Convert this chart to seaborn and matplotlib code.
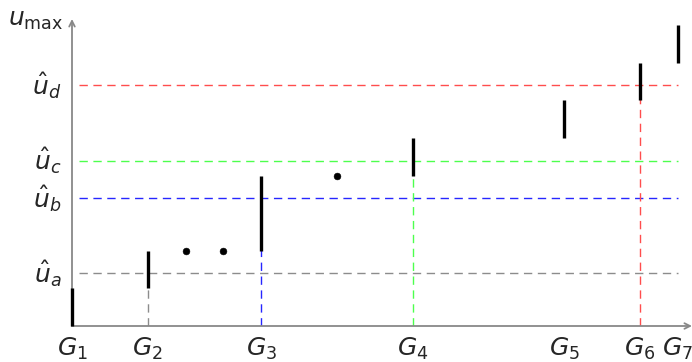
import matplotlib
matplotlib.use("Agg")
import matplotlib.pyplot as plt
import seaborn as sns
import pandas as pd

# data
group_labels = ["$G_1$", "$G_2$", "$G_3$", "$G_4$", "$G_5$", "$G_6$", "$G_7$"]
group_x = [0, 2, 5, 9, 13, 15, 16]
seg_low = [0, 1, 2, 4, 5, 6, 7]
seg_high = [1, 2, 4, 5, 6, 7, 8]
dot_x = [3, 4, 7]
dot_y = [2, 2, 4]
thr_labels = [r"$\hat{u}_a$", r"$\hat{u}_b$", r"$\hat{u}_c$", r"$\hat{u}_d$"]
thr_values = [1.4, 3.4, 4.4, 6.4]
thr_colors = ["#8c8c8c", "#2626ff", "#4dff4d", "#ff4d4d"]
thr_group_x = [2, 5, 9, 15]

sns.set_style("white")
plt.rcParams['font.family'] = ['DejaVu Sans']
plt.rcParams['mathtext.fontset'] = 'dejavusans'

XU = 37.85
YU = 37.6
fig = plt.figure(figsize=(6.92, 3.62), dpi=100)
ax = fig.add_axes([72/692, 36/362, 620/692, 307/362])
ax.set_xlim(0, 620/XU)
ax.set_ylim(0, 307/YU)
for s in ax.spines.values():
    s.set_visible(False)
ax.set_xticks([])
ax.set_yticks([])
ax.patch.set_alpha(0)

# threshold dashed lines
for v, c, gx in zip(thr_values, thr_colors, thr_group_x):
    ax.plot([0.18, 16.0], [v, v], color=c, lw=1.0, dashes=(6, 4), zorder=1)
    ax.plot([gx, gx], [0, v], color=c, lw=1.0, dashes=(6, 4), zorder=1)

# axes arrows
ax.annotate("", xy=(620/XU, 0), xytext=(0, 0),
            arrowprops=dict(arrowstyle="->", color="#888888", lw=1.3, shrinkA=0, shrinkB=0),
            annotation_clip=False, zorder=2)
ax.annotate("", xy=(0, 307/YU), xytext=(0, 0),
            arrowprops=dict(arrowstyle="->", color="#888888", lw=1.3, shrinkA=0, shrinkB=0),
            annotation_clip=False, zorder=2)

# segments
ax.vlines(group_x, seg_low, seg_high, color="black", lw=2.4, zorder=5, clip_on=False)

# dots
df = pd.DataFrame({"x": dot_x, "y": dot_y})
sns.scatterplot(data=df, x="x", y="y", ax=ax, color="black", s=24, zorder=6, edgecolor="black")
ax.set_xlabel("")
ax.set_ylabel("")

# labels
for lab, gx in zip(group_labels, group_x):
    ax.text(gx, -0.62, lab, ha="center", va="center", fontsize=18, clip_on=False)
for lab, v in zip(thr_labels, thr_values):
    ax.text(-0.28, v, lab, ha="right", va="center", fontsize=18, clip_on=False)
ax.text(-0.22, 8.15, r"$u_{\mathrm{max}}$", ha="right", va="center", fontsize=18, clip_on=False)

fig.savefig("out.png", dpi=100)
